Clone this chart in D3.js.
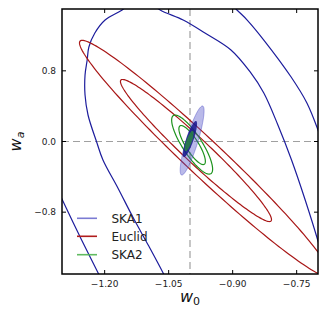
<!DOCTYPE html>
<html>
<head>
<meta charset="utf-8">
<script src="https://cdn.jsdelivr.net/npm/d3@7"></script>
<style>
  body { margin: 0; background: #fff; }
  svg text { font-family: "DejaVu Sans", sans-serif; }
</style>
</head>
<body>
<svg id="chart" width="328" height="318"></svg>
<script>
// --- data ---
const xTicks = [-1.20, -1.05, -0.90, -0.75];
const yTicks = [-0.8, 0.0, 0.8];
const fiducialW0 = -1.0;
const fiducialWa = 0.0;

// SKA1 contours (only the parts inside the frame matter, they get clipped)
const ska1InnerW0 = [-1.047, -1.063, -1.098, -1.134, -1.169, -1.204, -1.218, -1.239, -1.246, -1.246, -1.241, -1.237, -1.223, -1.199, -1.159, -1.115, -1.070, -1.016, -0.965, -0.904, -0.859, -0.827, -0.794, -0.762, -0.730, -0.700, -0.681];
const ska1InnerWa = [-1.647, -1.489, -1.172, -0.855, -0.526, -0.209, -0.017, 0.300, 0.526, 0.753, 0.923, 1.070, 1.228, 1.375, 1.489, 1.640, 1.489, 1.375, 1.228, 1.036, 0.787, 0.549, 0.187, -0.209, -0.662, -1.126, -1.455];
const ska1OuterLowW0 = [-1.323, -1.301, -1.254, -1.215, -1.202];
const ska1OuterLowWa = [-0.413, -0.643, -1.115, -1.492, -1.625];
const ska1OuterHighW0 = [-0.918, -0.890, -0.866, -0.827, -0.763, -0.726, -0.700, -0.686];
const ska1OuterHighWa = [1.625, 1.489, 1.375, 1.149, 0.730, 0.436, 0.130, -0.074];

// ellipses: [centre w0, centre wa, half-width w0, half-height wa, correlation]
const euclidEllipses = [
    [-0.986, -0.102, 0.177, 0.804, -0.972],
    [-0.965, -0.193, 0.294, 1.338, -0.978]
];
const ska2Ellipses = [
    [-0.995, -0.040, 0.031, 0.221, -0.83],
    [-0.995, -0.035, 0.048, 0.334, -0.83]
];
// shaded combined regions
const shadeLight = [-0.995, 0.011, 0.028, 0.391, 0.86];
const shadeDark = [-1.000, 0.028, 0.0165, 0.2045, 0.84];
const shadeGreen = [-1.002, 0.006, 0.0105, 0.115, 0.77];

const legendNames = ['SKA1', 'Euclid', 'SKA2'];
const legendColors = ['rgba(90,90,200,0.8)', '#b01c1c', 'rgba(80,180,80,0.9)'];

const blue = '#1c1c9c';
const red = '#a81616';
const green = '#1d931d';

// --- layout ---
const pLeft = 62, pTop = 9, pRight = 318, pBottom = 274;
const svg = d3.select('#chart');

const x = d3.scaleLinear().domain([-1.3, -0.7]).range([pLeft, pRight]);
const y = d3.scaleLinear().domain([-1.5, 1.5]).range([pBottom, pTop]);

svg.append('defs').append('clipPath').attr('id', 'plotclip')
    .append('rect')
    .attr('x', pLeft).attr('y', pTop)
    .attr('width', pRight - pLeft).attr('height', pBottom - pTop);

const plot = svg.append('g').attr('clip-path', 'url(#plotclip)');

// fiducial dashed lines
plot.append('line')
    .attr('x1', x(fiducialW0)).attr('x2', x(fiducialW0))
    .attr('y1', pTop).attr('y2', pBottom)
    .attr('stroke', '#a0a0a0').attr('stroke-width', 1.2).attr('stroke-dasharray', '7,4');
plot.append('line')
    .attr('x1', pLeft).attr('x2', pRight)
    .attr('y1', y(fiducialWa)).attr('y2', y(fiducialWa))
    .attr('stroke', '#a0a0a0').attr('stroke-width', 1.2).attr('stroke-dasharray', '7,4');

const line = d3.line().x(d => x(d[0])).y(d => y(d[1])).curve(d3.curveCatmullRom);

function zipPts(a, b) { return a.map((v, i) => [v, b[i]]); }

function ellipsePts(e) {
    const [cx, cy, sx, sy, r] = e;
    const pts = [];
    for (let i = 0; i <= 180; i++) {
        const t = i / 180 * 2 * Math.PI;
        pts.push([cx + sx * Math.cos(t), cy + sy * (r * Math.cos(t) + Math.sqrt(1 - r * r) * Math.sin(t))]);
    }
    return pts;
}
const eline = d3.line().x(d => x(d[0])).y(d => y(d[1]));

// SKA1 big contours
[zipPts(ska1InnerW0, ska1InnerWa), zipPts(ska1OuterLowW0, ska1OuterLowWa), zipPts(ska1OuterHighW0, ska1OuterHighWa)]
    .forEach(pts => {
        plot.append('path').attr('d', line(pts))
            .attr('fill', 'none').attr('stroke', blue).attr('stroke-width', 1.2);
    });

// Euclid
euclidEllipses.forEach(e => {
    plot.append('path').attr('d', eline(ellipsePts(e)))
        .attr('fill', 'none').attr('stroke', red).attr('stroke-width', 1.2);
});

// SKA2
ska2Ellipses.forEach(e => {
    plot.append('path').attr('d', eline(ellipsePts(e)))
        .attr('fill', 'none').attr('stroke', green).attr('stroke-width', 1.2);
});

// shaded regions
plot.append('path').attr('d', eline(ellipsePts(shadeLight)))
    .attr('fill', 'rgba(80,80,200,0.4)').attr('stroke', 'rgba(60,60,190,0.5)').attr('stroke-width', 0.8);
plot.append('path').attr('d', eline(ellipsePts(shadeDark)))
    .attr('fill', 'rgba(20,20,140,0.85)').attr('stroke', 'none');
plot.append('path').attr('d', eline(ellipsePts(shadeGreen)))
    .attr('fill', 'rgba(40,160,40,0.65)').attr('stroke', 'none');

// frame
svg.append('rect')
    .attr('x', pLeft).attr('y', pTop)
    .attr('width', pRight - pLeft).attr('height', pBottom - pTop)
    .attr('fill', 'none').attr('stroke', '#000').attr('stroke-width', 1.5);

// ticks, inward on all four sides
const tickLen = 4;
xTicks.forEach(v => {
    svg.append('line').attr('x1', x(v)).attr('x2', x(v)).attr('y1', pBottom).attr('y2', pBottom - tickLen)
        .attr('stroke', '#000').attr('stroke-width', 1);
    svg.append('line').attr('x1', x(v)).attr('x2', x(v)).attr('y1', pTop).attr('y2', pTop + tickLen)
        .attr('stroke', '#000').attr('stroke-width', 1);
    svg.append('text').attr('x', x(v)).attr('y', 287)
        .attr('text-anchor', 'middle').attr('font-size', 9).attr('fill', '#222')
        .text(d3.format('.2f')(v).replace('-', '\u2212'));
});
yTicks.forEach(v => {
    svg.append('line').attr('x1', pLeft).attr('x2', pLeft + tickLen).attr('y1', y(v)).attr('y2', y(v))
        .attr('stroke', '#000').attr('stroke-width', 1);
    svg.append('line').attr('x1', pRight).attr('x2', pRight - tickLen).attr('y1', y(v)).attr('y2', y(v))
        .attr('stroke', '#000').attr('stroke-width', 1);
    svg.append('text').attr('x', 56).attr('y', y(v) + 3.3)
        .attr('text-anchor', 'end').attr('font-size', 9).attr('fill', '#222')
        .text(d3.format('.1f')(v).replace('-', '\u2212'));
});

// axis labels
const xl = svg.append('text').attr('x', (pLeft + pRight) / 2).attr('y', 301.5)
    .attr('text-anchor', 'middle').attr('font-size', 16).attr('fill', '#111');
xl.append('tspan').attr('font-style', 'italic').text('w');
xl.append('tspan').attr('font-size', 11).attr('dy', 3).text('0');

const yl = svg.append('text')
    .attr('transform', `translate(20.5, ${(pTop + pBottom) / 2}) rotate(-90)`)
    .attr('text-anchor', 'middle').attr('font-size', 16).attr('fill', '#111');
yl.append('tspan').attr('font-style', 'italic').text('w');
yl.append('tspan').attr('font-size', 11).attr('font-style', 'italic').attr('dy', 3).text('a');

// legend
const legY = [218.3, 236.3, 254.7];
legendNames.forEach((name, i) => {
    svg.append('line').attr('x1', 77).attr('x2', 97).attr('y1', legY[i]).attr('y2', legY[i])
        .attr('stroke', legendColors[i]).attr('stroke-width', 1.6);
    svg.append('text').attr('x', 111.5).attr('y', legY[i]).attr('dy', '0.36em')
        .attr('font-size', 12).attr('fill', '#222').text(name);
});
</script>
</body>
</html>
